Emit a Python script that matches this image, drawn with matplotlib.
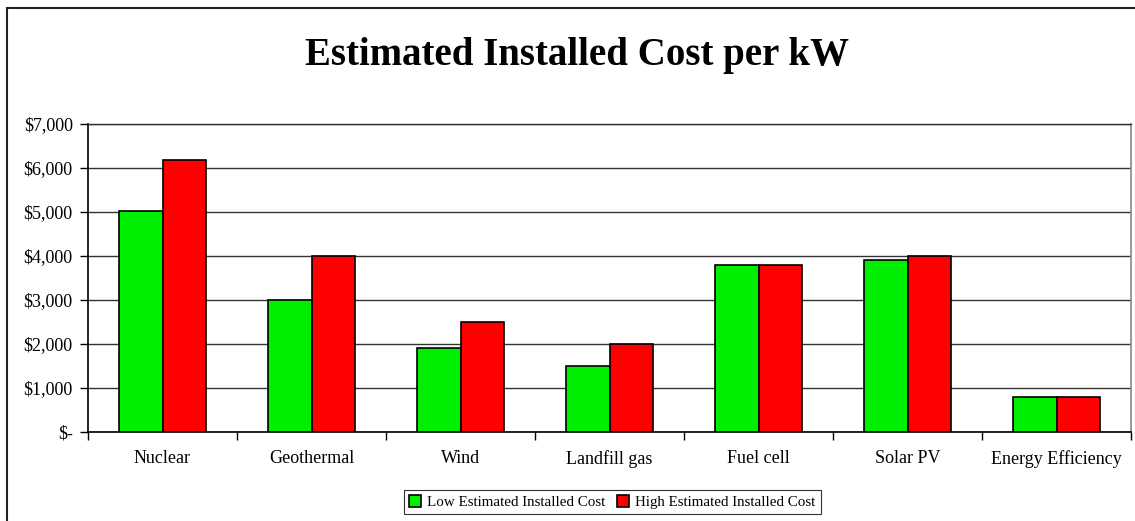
import matplotlib.pyplot as plt
import numpy as np
from matplotlib.patches import Rectangle
from matplotlib.ticker import FuncFormatter

categories = ['Nuclear', 'Geothermal', 'Wind', 'Landfill gas', 'Fuel cell', 'Solar PV', 'Energy Efficiency']
low_cost = [5030, 3000, 1910, 1500, 3800, 3910, 800]
high_cost = [6180, 4000, 2500, 2000, 3800, 4000, 800]
series_names = ['Low Estimated Installed Cost', 'High Estimated Installed Cost']

plt.rcParams['font.family'] = ['Liberation Serif', 'DejaVu Serif']

fig = plt.figure(figsize=(11.35, 5.21), dpi=100)
W, H = 1135, 521
ax = fig.add_axes([88 / W, 1 - 432 / H, (1131 - 88) / W, (432 - 124) / H])

# outer chart frame (cropped at right/bottom in the original)
fig.patches.append(Rectangle((7 / W, -0.1), 1.2, 1 - 8 / H + 0.1, transform=fig.transFigure,
                             fill=False, edgecolor='#222222', linewidth=1.5))

x = np.arange(len(categories))
w = 0.295
ax.bar(x - w / 2, low_cost, w, color='#00ee00', edgecolor='black', linewidth=1.2,
       label=series_names[0], zorder=3)
ax.bar(x + w / 2, high_cost, w, color='#ff0000', edgecolor='black', linewidth=1.2,
       label=series_names[1], zorder=3)

ax.set_xlim(-0.5, len(categories) - 0.5)
ax.set_ylim(0, 7000)
ax.set_yticks(np.arange(0, 7001, 1000))
ax.yaxis.set_major_formatter(FuncFormatter(lambda v, p: '$-' if v == 0 else f'${v:,.0f}'))
ax.grid(axis='y', color='#333333', linewidth=1, zorder=0)

ax.set_xticks(x)
ax.set_xticklabels(categories, fontsize=13)
ax.set_xticks(np.arange(-0.5, len(categories)), minor=True)
ax.tick_params(axis='x', which='major', length=0, pad=13)
ax.tick_params(axis='x', which='minor', length=6, width=1, color='black')
ax.tick_params(axis='y', length=6, width=1, labelsize=13, pad=5)

for s in ['left', 'bottom']:
    ax.spines[s].set_color('black')
    ax.spines[s].set_linewidth(1.2)
ax.spines['top'].set_color('#333333')
ax.spines['top'].set_linewidth(1)
ax.spines['right'].set_color('#888888')
ax.spines['right'].set_linewidth(1.2)

fig.text(0.508, 1 - 55 / H, 'Estimated Installed Cost per kW', ha='center', va='center',
         fontsize=28, fontweight='bold')

leg = fig.legend(loc='center', bbox_to_anchor=(612 / W, 1 - 502 / H), ncol=2, fontsize=10.8,
                 frameon=True, fancybox=False, edgecolor='black', handlelength=0.8,
                 handleheight=0.8, handletextpad=0.4, columnspacing=0.8, borderpad=0.35)
leg.get_frame().set_linewidth(0.8)

fig.savefig('out.png', dpi=100)
